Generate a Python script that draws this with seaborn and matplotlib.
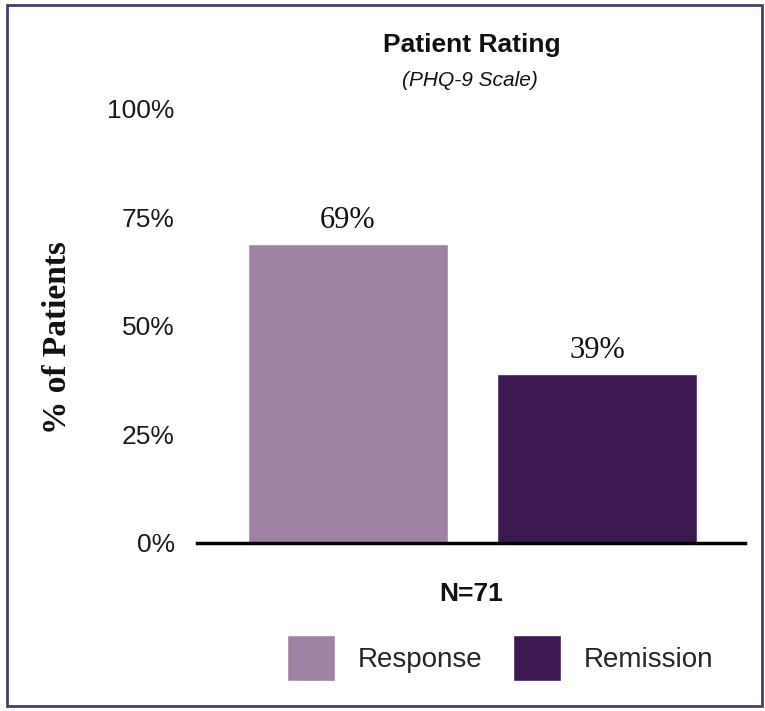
import numpy as np
import pandas as pd
import matplotlib
matplotlib.use("Agg")
import matplotlib.pyplot as plt
from matplotlib.patches import Patch, Rectangle
import seaborn as sns

# data
measures = ["Response", "Remission"]
pct_patients = [69, 39]
bar_colors = ["#9f83a4", "#3d1952"]
y_ticks = [0, 25, 50, 75, 100]
y_tick_labels = ["0%", "25%", "50%", "75%", "100%"]

df = pd.DataFrame({"Measure": measures, "Pct": pct_patients})

sns.set_style("white")
plt.rcParams["font.family"] = ["Liberation Sans", "DejaVu Sans"]

fig = plt.figure(figsize=(7.65, 7.11), dpi=100)
ax = fig.add_axes([0.2575, 0.2363, 0.7163, 0.6104])

sns.barplot(data=df, x="Measure", y="Pct", hue="Measure",
            palette=dict(zip(measures, bar_colors)), width=0.803,
            legend=False, saturation=1, ax=ax)

for c in ax.containers:
    ax.bar_label(c, fmt=lambda v: f"{v:.0f}%", padding=6,
                 fontsize=22, family="Liberation Serif", color="#111111")

ax.set_xlim(-0.606, 1.594)
ax.set_ylim(0, 100)
ax.set_yticks(y_ticks)
ax.set_yticklabels(y_tick_labels, fontsize=19, color="#1a1a1a")
ax.set_xticks([])
ax.tick_params(axis="y", length=0, pad=16)
ax.set_xlabel("")
ax.set_ylabel("")
for s in ["top", "right", "left"]:
    ax.spines[s].set_visible(False)
ax.spines["bottom"].set_color("black")
ax.spines["bottom"].set_linewidth(2.5)

# y label in bold serif
fig.text(58 / 765, 1 - 338 / 711, "% of Patients", rotation=90,
         ha="center", va="center", fontsize=24, fontweight="bold",
         family="Liberation Serif", color="#111111")

# titles
fig.text(472 / 765, 1 - 45 / 711, "Patient Rating", ha="center", va="center",
         fontsize=19, fontweight="bold", color="#111111")
fig.text(470 / 765, 1 - 81 / 711, "(PHQ-9 Scale)", ha="center", va="center",
         fontsize=15, style="italic", color="#111111")
fig.text(471 / 765, 1 - 594 / 711, "N=71", ha="center", va="center",
         fontsize=19, fontweight="bold", color="#111111")

handles = [Patch(facecolor=col, label=m) for m, col in zip(measures, bar_colors)]
fig.legend(handles=handles, loc="center", bbox_to_anchor=(500 / 765, 1 - 658 / 711),
           ncol=2, frameon=False, fontsize=20, handlelength=1.75, handleheight=2.2,
           handletextpad=0.8, columnspacing=1.1)

# purple frame around the figure
fig.patches.append(Rectangle((7 / 765, 5 / 711), 755 / 765, 701 / 711,
                             transform=fig.transFigure, fill=False,
                             edgecolor="#4d3b6b", linewidth=2))

fig.savefig("out.png", dpi=100)
